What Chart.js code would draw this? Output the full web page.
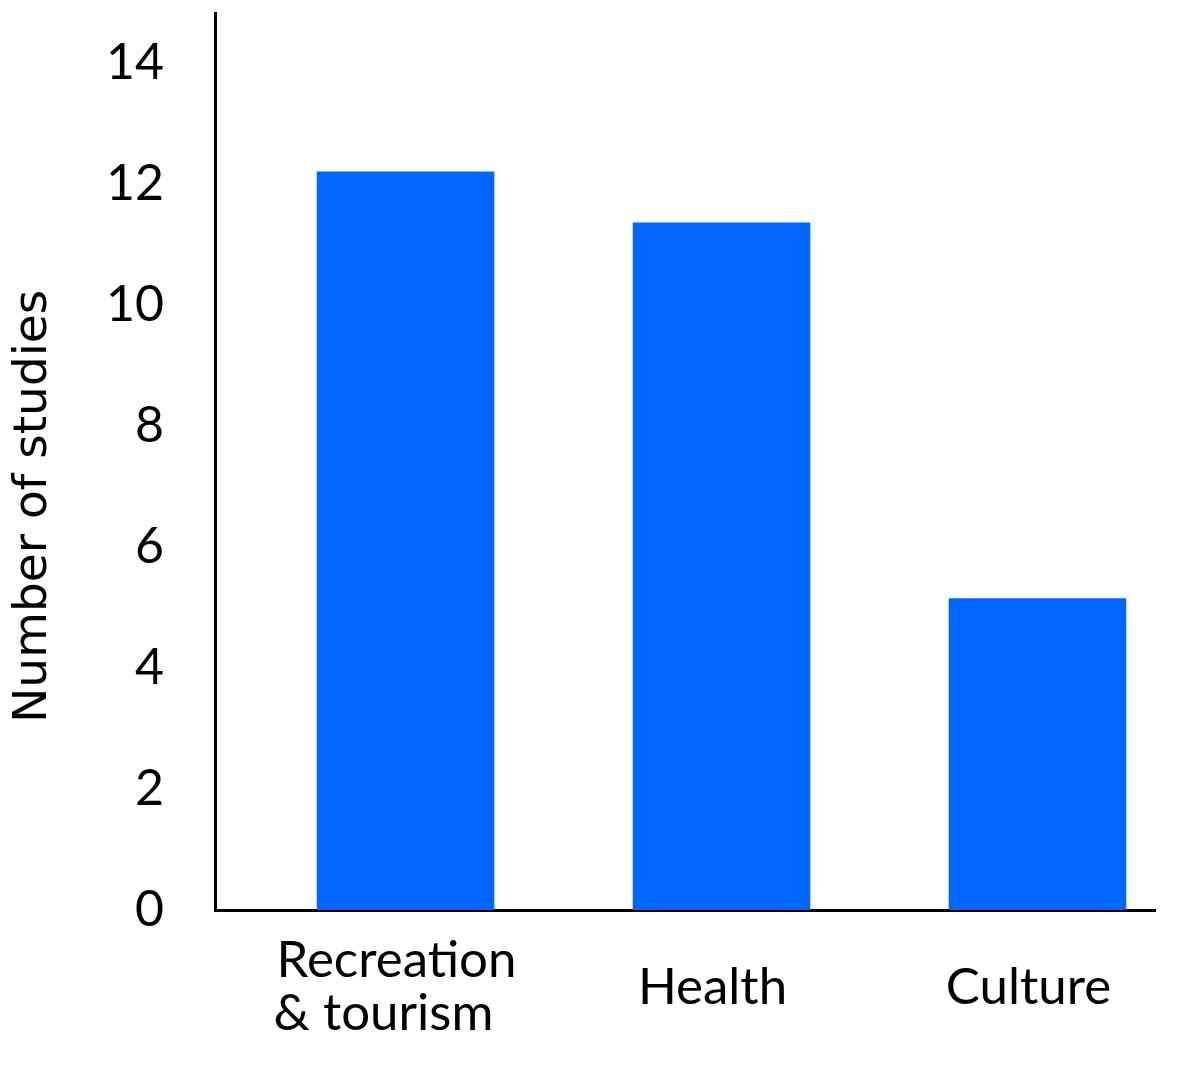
<!DOCTYPE html>
<html>
<head>
<meta charset="utf-8">
<script src="https://cdn.jsdelivr.net/npm/chart.js@4"></script>
<style>
  html, body { margin: 0; padding: 0; background: #ffffff; }
  #wrap { width: 1181px; height: 1066px; }
</style>
</head>
<body>
<div id="wrap"><canvas id="myChart" width="1181" height="1066"></canvas></div>
<script>
// Data
// (trailing spaces on the second line keep the two lines left-aligned)
const categories = [['Recreation', '& tourism  '], 'Health', 'Culture'];
const studies = [12.2, 11.36, 5.15];
const yTicks = [0, 2, 4, 6, 8, 10, 12, 14];

const labelFont = "Lato, 'Open Sans', sans-serif";

// bars sit on a linear x scale at 0, 1, 2
const points = categories.map((c, i) => ({ x: i, y: studies[i] }));

// the layout is fixed by hand, so drop the padding Chart.js adds for labels
const noPad = (scale) => {
  scale.paddingTop = 0;
  scale.paddingBottom = 0;
  scale.paddingLeft = 0;
  scale.paddingRight = 0;
};

var context = document.getElementById('myChart').getContext('2d');

var myChart = new Chart(context, {
  type: 'bar',
  data: {
    datasets: [{
      label: 'Number of studies',
      data: points,
      backgroundColor: '#0066ff',
      borderWidth: 0,
      categoryPercentage: 1,
      barPercentage: 0.562
    }]
  },
  options: {
    responsive: false,
    animation: false,
    devicePixelRatio: 1,
    layout: { padding: { top: 13, right: 26, bottom: 0, left: 0 } },
    plugins: {
      legend: { display: false },
      tooltip: { enabled: false }
    },
    scales: {
      x: {
        type: 'linear',
        bounds: 'data',
        offset: false,
        min: -0.603,
        max: 2.372,
        z: 1,
        grid: { display: false, drawTicks: false, offset: false },
        border: { display: true, color: '#000000', width: 3 },
        afterBuildTicks: (scale) => {
          scale.ticks = categories.map((c, i) => ({ value: i }));
        },
        afterFit: (scale) => { scale.height = 156; noPad(scale); },
        ticks: {
          autoSkip: false,
          maxRotation: 0,
          minRotation: 0,
          padding: 51,
          labelOffset: -9,
          crossAlign: 'center',
          color: '#000000',
          font: { family: labelFont, size: 51, lineHeight: 1.04 },
          callback: (value) => categories[value]
        }
      },
      y: {
        bounds: 'data',
        min: 0,
        max: 14.82,
        z: 1,
        grid: { display: false, drawTicks: false },
        border: { display: true, color: '#000000', width: 3 },
        afterBuildTicks: (scale) => {
          scale.ticks = yTicks.map(v => ({ value: v }));
        },
        afterFit: (scale) => { scale.width = 215; noPad(scale); },
        ticks: {
          padding: 51,
          color: '#000000',
          font: { family: labelFont, size: 50 }
        },
        title: {
          display: true,
          // trailing spaces push the centred title down toward the bottom
          text: 'Number of studies      ',
          color: '#000000',
          font: { family: "'DejaVu Sans', sans-serif", size: 47 },
          padding: { top: 6, bottom: 0 }
        }
      }
    }
  }
});
</script>
</body>
</html>
